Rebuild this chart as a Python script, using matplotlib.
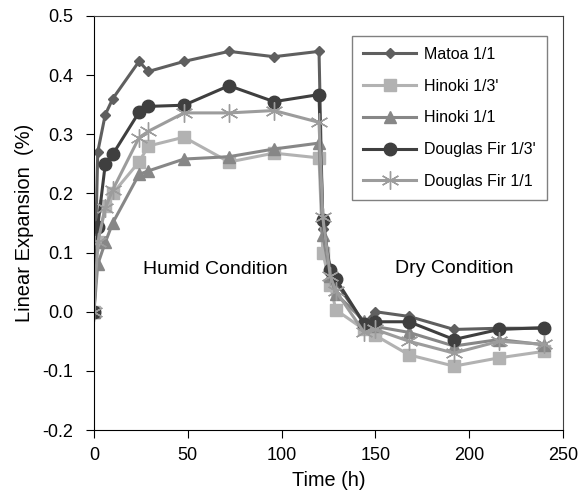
import numpy as np
import matplotlib.pyplot as plt
from matplotlib.ticker import FormatStrFormatter

plt.rcParams['font.family'] = ['Liberation Sans', 'DejaVu Sans']
plt.rcParams['axes.unicode_minus'] = False

time_h = [0, 2, 6, 10, 24, 29, 48, 72, 96, 120, 122, 126, 129, 144, 150, 168, 192, 216, 240]

matoa_11 = [0, 0.27, 0.333, 0.36, 0.423, 0.406, 0.423, 0.44, 0.431, 0.44,
            0.14, 0.07, 0.05, -0.02, 0.0, -0.008, -0.03, -0.028, -0.028]
hinoki_13 = [0, 0.117, 0.178, 0.2, 0.253, 0.28, 0.295, 0.253, 0.268, 0.26,
             0.10, 0.045, 0.003, -0.03, -0.04, -0.073, -0.092, -0.078, -0.067]
hinoki_11 = [0, 0.08, 0.117, 0.15, 0.232, 0.238, 0.258, 0.262, 0.275, 0.285,
             0.13, 0.06, 0.03, -0.015, -0.025, -0.035, -0.058, -0.047, -0.056]
douglas_13 = [0, 0.144, 0.249, 0.266, 0.337, 0.347, 0.349, 0.382, 0.355, 0.367,
              0.155, 0.07, 0.055, -0.02, -0.017, -0.017, -0.047, -0.03, -0.027]
douglas_11 = [0, 0.117, 0.175, 0.206, 0.294, 0.305, 0.336, 0.336, 0.34, 0.32,
              0.16, 0.06, 0.035, -0.035, -0.03, -0.05, -0.07, -0.05, -0.055]

series = [
    ("Matoa 1/1", matoa_11, "#5f5f5f", "D", 5),
    ("Hinoki 1/3'", hinoki_13, "#b2b2b2", "s", 8),
    ("Hinoki 1/1", hinoki_11, "#878787", "^", 8),
    ("Douglas Fir 1/3'", douglas_13, "#3f3f3f", "o", 9),
    ("Douglas Fir 1/1", douglas_11, "#9c9c9c", (6, 2, 0), 13),
]

fig = plt.figure(figsize=(5.82, 4.96), dpi=100)
ax = fig.add_axes([0.1615, 0.133, 0.8055, 0.835])

for name, vals, col, mk, ms in series:
    ax.plot(time_h, vals, color=col, lw=2.2, marker=mk, markersize=ms,
            markerfacecolor=col, markeredgecolor=col, markeredgewidth=1.0,
            label=name)

ax.set_xlim(0, 250)
ax.set_ylim(-0.2, 0.5)
ax.set_xticks(np.arange(0, 251, 50))
ax.set_yticks(np.arange(-0.2, 0.51, 0.1))
ax.yaxis.set_major_formatter(FormatStrFormatter('%.1f'))
ax.tick_params(direction='out', length=6, labelsize=13)
ax.tick_params(axis='y', pad=9)
ax.tick_params(axis='x', pad=6)

ax.spines['top'].set_color('#404040')
ax.spines['right'].set_color('#404040')

ax.set_xlabel("Time (h)", fontsize=14.3, labelpad=5)
ax.set_ylabel("Linear Expansion  (%)", fontsize=14.5, labelpad=6)

ax.text(64.5, 0.071, "Humid Condition", fontsize=14, ha='center', va='center')
ax.text(192, 0.073, "Dry Condition", fontsize=14, ha='center', va='center')

leg = ax.legend(loc='upper right', bbox_to_anchor=(0.966, 0.952), borderaxespad=0,
                fancybox=False, edgecolor='#606060', fontsize=11.5,
                handlelength=3.3, handletextpad=0.5, labelspacing=1.05,
                borderpad=0.7)
leg.get_frame().set_linewidth(1.0)

fig.savefig("out.png", dpi=100)
